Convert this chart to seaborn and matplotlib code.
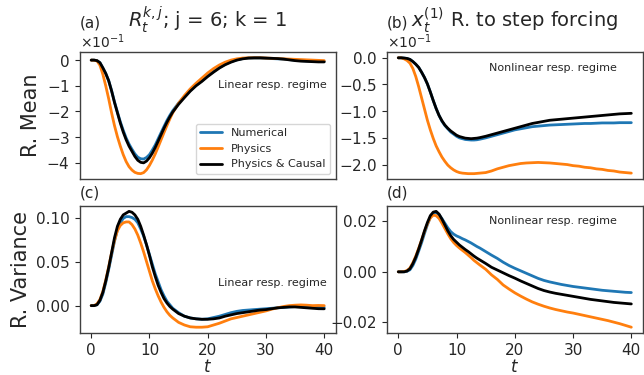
import numpy as np
import pandas as pd
import matplotlib
matplotlib.use("Agg")
import matplotlib.pyplot as plt
import seaborn as sns

# time grid: half steps up to 14, then unit steps
t = [0, 0.5, 1, 1.5, 2, 2.5, 3, 3.5, 4, 4.5, 5, 5.5, 6, 6.5, 7, 7.5, 8, 8.5, 9, 9.5, 10,
     10.5, 11, 11.5, 12, 12.5, 13, 13.5, 14,
     15, 16, 17, 18, 19, 20, 21, 22, 23, 24, 25, 26, 27, 28, 29, 30, 31, 32, 33, 34, 35,
     36, 37, 38, 39, 40]
models = ["Numerical", "Physics", "Physics & Causal"]
colors = ["#1f77b4", "#ff7f0e", "black"]
x_ticks = [0, 10, 20, 30, 40]
a_ticks = [0, -0.1, -0.2, -0.3, -0.4]
b_ticks = [0, -0.05, -0.1, -0.15, -0.2]

# (a) R. mean, linear regime, in units of 1e-1
a_num = [0, 0, -0.02, -0.1, -0.3, -0.52, -0.8, -1.18, -1.62, -2.02, -2.4, -2.73, -3.03, -3.27,
         -3.47, -3.65, -3.78, -3.84, -3.85, -3.79, -3.68, -3.5, -3.3, -3.06, -2.82, -2.58, -2.35,
         -2.15, -1.97,
         -1.67, -1.42, -1.18, -0.98, -0.8, -0.61, -0.44, -0.29, -0.16, -0.06, 0.01, 0.06, 0.08,
         0.08, 0.08, 0.07, 0.06, 0.05, 0.04, 0.02, 0.0, -0.02, -0.03, -0.04, -0.05, -0.05]
a_phy = [0, -0.005, -0.03, -0.2, -0.55, -1.0, -1.5, -2.05, -2.55, -2.98, -3.35, -3.68, -3.95,
         -4.15, -4.28, -4.37, -4.41, -4.42, -4.38, -4.27, -4.1, -3.89, -3.65, -3.38, -3.1, -2.82,
         -2.55, -2.29, -2.05,
         -1.68, -1.38, -1.12, -0.9, -0.7, -0.5, -0.33, -0.19, -0.08, 0.0, 0.05, 0.08, 0.09,
         0.09, 0.09, 0.08, 0.07, 0.06, 0.05, 0.04, 0.03, 0.02, 0.01, 0.0, -0.01, -0.02]
a_pc = [0, 0, -0.02, -0.1, -0.3, -0.52, -0.8, -1.2, -1.65, -2.05, -2.45, -2.8, -3.1, -3.35,
        -3.55, -3.75, -3.9, -3.98, -4.0, -3.93, -3.8, -3.62, -3.4, -3.15, -2.9, -2.65, -2.42,
        -2.21, -2.02,
        -1.72, -1.46, -1.21, -1.0, -0.83, -0.64, -0.47, -0.31, -0.18, -0.08, 0.0, 0.05, 0.08,
        0.09, 0.09, 0.08, 0.07, 0.06, 0.04, 0.01, -0.02, -0.04, -0.05, -0.06, -0.07, -0.07]

# (b) R. mean to step forcing, nonlinear regime, in units of 1e-1
b_num = [0, 0, -0.005, -0.012, -0.03, -0.07, -0.12, -0.18, -0.27, -0.37, -0.49, -0.64, -0.8,
         -0.95, -1.08, -1.19, -1.27, -1.33, -1.39, -1.43, -1.47, -1.5, -1.515, -1.53, -1.535,
         -1.54, -1.54, -1.535, -1.525,
         -1.5, -1.47, -1.44, -1.41, -1.38, -1.35, -1.33, -1.31, -1.29, -1.28, -1.27, -1.26,
         -1.255, -1.25, -1.245, -1.24, -1.235, -1.23, -1.23, -1.225, -1.22, -1.22, -1.22,
         -1.215, -1.215, -1.215]
b_phy = [0, 0, -0.02, -0.05, -0.1, -0.2, -0.35, -0.54, -0.75, -0.96, -1.17, -1.35, -1.51,
         -1.65, -1.76, -1.86, -1.94, -2.01, -2.06, -2.1, -2.13, -2.15, -2.16, -2.165, -2.17,
         -2.17, -2.17, -2.165, -2.16,
         -2.15, -2.12, -2.08, -2.05, -2.02, -2.0, -1.98, -1.97, -1.965, -1.96, -1.965, -1.97,
         -1.98, -1.99, -2.0, -2.02, -2.03, -2.05, -2.06, -2.08, -2.09, -2.11, -2.12, -2.14,
         -2.15, -2.16]
b_pc = [0, 0, -0.005, -0.012, -0.03, -0.07, -0.12, -0.18, -0.27, -0.37, -0.49, -0.64, -0.8,
        -0.95, -1.08, -1.18, -1.26, -1.32, -1.37, -1.41, -1.45, -1.475, -1.49, -1.505, -1.51,
        -1.515, -1.51, -1.505, -1.495,
        -1.47, -1.44, -1.41, -1.38, -1.35, -1.32, -1.29, -1.26, -1.23, -1.21, -1.19, -1.17,
        -1.16, -1.15, -1.14, -1.13, -1.12, -1.11, -1.10, -1.09, -1.08, -1.07, -1.06, -1.05,
        -1.045, -1.04]

# (c) R. variance, linear regime
c_num = [0, 0, 0.001, 0.005, 0.013, 0.026, 0.041, 0.057, 0.073, 0.086, 0.094, 0.099, 0.101,
         0.101, 0.1, 0.098, 0.094, 0.087, 0.079, 0.069, 0.058, 0.047, 0.036, 0.027, 0.018, 0.011,
         0.005, 0.001, -0.003,
         -0.008, -0.012, -0.014, -0.015, -0.0155, -0.015, -0.0135, -0.012, -0.01, -0.008,
         -0.0065, -0.0055, -0.005, -0.0045, -0.004, -0.0035, -0.003, -0.0025, -0.002, -0.0015,
         -0.001, -0.001, -0.0015, -0.002, -0.002, -0.002]
c_phy = [0, 0, 0.002, 0.007, 0.016, 0.029, 0.044, 0.06, 0.074, 0.085, 0.091, 0.094, 0.095,
         0.095, 0.092, 0.087, 0.08, 0.071, 0.061, 0.05, 0.039, 0.028, 0.019, 0.011, 0.004,
         -0.002, -0.007, -0.011, -0.014,
         -0.019, -0.022, -0.024, -0.0245, -0.0245, -0.024, -0.022, -0.02, -0.0175, -0.015,
         -0.0135, -0.012, -0.0105, -0.009, -0.0075, -0.006, -0.004, -0.0025, -0.001, 0.0,
         0.0005, 0.0008, 0.0005, 0.0, 0.0002, 0.0]
c_pc = [0, 0, 0.001, 0.006, 0.015, 0.028, 0.043, 0.06, 0.077, 0.09, 0.098, 0.103, 0.105,
        0.107, 0.106, 0.103, 0.098, 0.09, 0.08, 0.069, 0.057, 0.044, 0.033, 0.023, 0.015, 0.008,
        0.003, -0.001, -0.004,
        -0.009, -0.012, -0.014, -0.015, -0.0155, -0.0155, -0.015, -0.014, -0.012, -0.0105,
        -0.009, -0.008, -0.007, -0.006, -0.005, -0.0045, -0.0035, -0.0025, -0.002, -0.0015,
        -0.0015, -0.002, -0.0025, -0.003, -0.0035, -0.0036]

# (d) R. variance, nonlinear regime
d_num = [0, 0, 0, 0.0002, 0.0008, 0.0025, 0.005, 0.0082, 0.0115, 0.0152, 0.0186, 0.0215,
         0.0231, 0.0234, 0.0226, 0.021, 0.0192, 0.0174, 0.0159, 0.0149, 0.0142, 0.0137, 0.0131,
         0.0126, 0.012, 0.0114, 0.0107, 0.01, 0.0094,
         0.008, 0.0066, 0.0053, 0.0038, 0.0025, 0.0014, 0.0004, -0.0006, -0.0016, -0.0026,
         -0.0034, -0.004, -0.0045, -0.005, -0.0054, -0.0058, -0.0061, -0.0064, -0.0067, -0.007,
         -0.0073, -0.0075, -0.0077, -0.0079, -0.0081, -0.0082]
d_phy = [0, 0, 0.0001, 0.0005, 0.0015, 0.0036, 0.0062, 0.0093, 0.0126, 0.016, 0.019, 0.0213,
         0.0224, 0.0222, 0.0211, 0.0192, 0.0171, 0.015, 0.0131, 0.0116, 0.0104, 0.0094, 0.0085,
         0.0076, 0.0066, 0.0056, 0.0045, 0.0036, 0.0027,
         0.001, -0.0012, -0.003, -0.0052, -0.0068, -0.0083, -0.0096, -0.0108, -0.0119, -0.0128,
         -0.0136, -0.0143, -0.0149, -0.0154, -0.0159, -0.0163, -0.0168, -0.0173, -0.0178,
         -0.0183, -0.0188, -0.0193, -0.0199, -0.0205, -0.0212, -0.0219]
d_pc = [0, 0, 0, 0.0003, 0.0012, 0.0032, 0.0058, 0.009, 0.0125, 0.0162, 0.0195, 0.0222, 0.0236,
        0.0239, 0.0228, 0.0208, 0.0185, 0.0162, 0.0143, 0.0128, 0.0117, 0.0106, 0.0097, 0.0088,
        0.008, 0.0071, 0.0062, 0.0054, 0.0047,
        0.0033, 0.0018, 0.0007, -0.0004, -0.0015, -0.0025, -0.0036, -0.0046, -0.0056, -0.0066,
        -0.0074, -0.008, -0.0085, -0.0089, -0.0093, -0.0097, -0.0101, -0.0105, -0.0109, -0.0112,
        -0.0115, -0.0118, -0.0121, -0.0123, -0.0125, -0.0127]

scale_top = 0.1  # top-row values above are given in units of 1e-1


def frame(series, scale=1.0):
    rows = []
    for name, vals in zip(models, series):
        for ti, v in zip(t, vals):
            rows.append({"t": ti, "value": v * scale, "model": name})
    return pd.DataFrame(rows)


sns.set_style("ticks")
plt.rcParams["font.family"] = ["DejaVu Sans"]

fig, axes = plt.subplots(2, 2, figsize=(6.44, 3.75), dpi=100, sharex=True)
fig.subplots_adjust(left=0.1235, right=0.9984, top=0.8613, bottom=0.112,
                    wspace=0.198, hspace=0.205)

panels = [
    (axes[0, 0], [a_num, a_phy, a_pc], scale_top),
    (axes[0, 1], [b_num, b_phy, b_pc], scale_top),
    (axes[1, 0], [c_num, c_phy, c_pc], 1.0),
    (axes[1, 1], [d_num, d_phy, d_pc], 1.0),
]
for i, (ax, series, sc) in enumerate(panels):
    df = frame(series, sc)
    sns.lineplot(data=df, x="t", y="value", hue="model", hue_order=models,
                 palette=colors, linewidth=2, ax=ax, legend=(i == 0))
    ax.set_xlabel("")
    ax.set_ylabel("")
    ax.tick_params(labelsize=11)
    for s in ax.spines.values():
        s.set_color("#404040")
        s.set_linewidth(1.0)

axes[0, 0].set_yticks(a_ticks)
axes[0, 1].set_yticks(b_ticks)
for ax in axes[0]:
    ax.ticklabel_format(axis="y", style="sci", scilimits=(0, 0), useMathText=True)
    ax.tick_params(axis="x", bottom=False, labelbottom=False)
    ax.yaxis.get_offset_text().set_fontsize(10)

axes[1, 0].set_xticks(x_ticks)
for ax in axes[1]:
    ax.set_xlabel("$t$", fontsize=12, labelpad=0)

axes[0, 0].set_ylabel("R. Mean", fontsize=15)
axes[1, 0].set_ylabel("R. Variance", fontsize=15)

top_pad = 18
axes[0, 0].set_title("(a)", loc="left", fontsize=11, y=1.0, pad=top_pad)
axes[0, 0].set_title(r"$R_t^{k,j}$; j = 6; k = 1", fontsize=14, y=1.0, pad=top_pad)
axes[0, 1].set_title("(b)", loc="left", fontsize=11, y=1.0, pad=top_pad)
axes[0, 1].set_title(r"$x_t^{(1)}$ R. to step forcing", fontsize=14, y=1.0, pad=top_pad)
axes[1, 0].set_title("(c)", loc="left", fontsize=11)
axes[1, 1].set_title("(d)", loc="left", fontsize=11)

axes[0, 0].text(0.965, 0.74, "Linear resp. regime", transform=axes[0, 0].transAxes,
                ha="right", va="center", fontsize=8)
axes[1, 0].text(0.965, 0.39, "Linear resp. regime", transform=axes[1, 0].transAxes,
                ha="right", va="center", fontsize=8)
axes[0, 1].text(0.90, 0.876, "Nonlinear resp. regime", transform=axes[0, 1].transAxes,
                ha="right", va="center", fontsize=8)
axes[1, 1].text(0.90, 0.877, "Nonlinear resp. regime", transform=axes[1, 1].transAxes,
                ha="right", va="center", fontsize=8)

axes[0, 0].legend(loc="lower right", fontsize=8, title=None)

fig.savefig("out.png", dpi=100)
